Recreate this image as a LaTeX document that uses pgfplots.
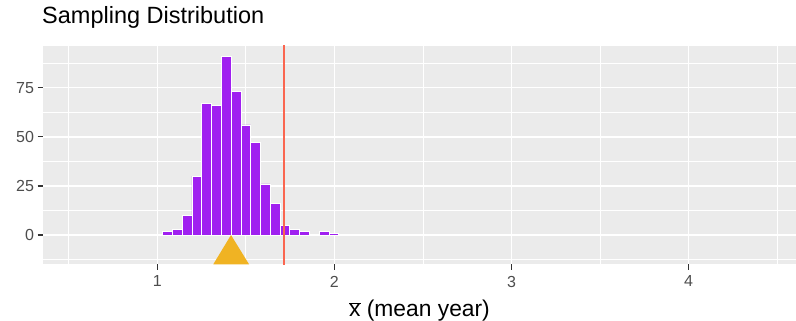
\documentclass[border=0pt]{standalone}
\usepackage{fontspec}
\setmainfont{Liberation Sans}
\usepackage{pgfplots}
\pgfplotsset{compat=1.18}
\definecolor{bgcol}{HTML}{EBEBEB}
\definecolor{barcol}{HTML}{A020F0}
\definecolor{linecol}{HTML}{FA6650}
\definecolor{goldcol}{HTML}{F0B323}
\definecolor{tickcol}{HTML}{333333}
\definecolor{labcol}{HTML}{4D4D4D}
\begin{document}
\begin{tikzpicture}
\path[use as bounding box] (0,0) rectangle (796pt,321pt);
\begin{axis}[
  at={(43pt,56.7pt)}, anchor=south west,
  width=753pt, height=218.3pt, scale only axis,
  xmin=0.3546, xmax=4.606, ymin=-14.9, ymax=96.2,
  axis background/.style={fill=bgcol},
  axis line style={draw=none},
  xtick={1,2,3,4}, ytick={0,25,50,75},
  minor xtick={0.5,1.5,2.5,3.5,4.5},
  minor ytick={-12.5,12.5,37.5,62.5,87.5},
  grid=both,
  major grid style={white, line width=1.6pt},
  minor grid style={white, line width=0.8pt},
  tick pos=left, tick align=outside,
  major tick length=5.5pt, minor tick length=0pt,
  tick style={tickcol, line width=1.3pt},
  minor tick style={draw=none},
  /pgf/number format/assume math mode=true,
  tick label style={font=\fontsize{16}{19}\selectfont, text=labcol},
  xticklabel style={yshift=-2.5pt},
  title={Sampling Distribution},
  title style={at={(axis description cs:0,1)}, anchor=base west, inner sep=0pt, xshift=-1pt, yshift=16.7pt, font=\fontsize{23.5}{27}\selectfont},
  xlabel={$\overline{\mbox{x}}$ (mean year)},
  xlabel style={at={(axis description cs:0.5,0)}, anchor=base, inner sep=0pt, yshift=-52.4pt, font=\fontsize{22.8}{26}\selectfont},
]
\addplot[ybar interval, fill=barcol, draw=white, line width=0.7pt] coordinates {
(1.0300,2) (1.0852,3) (1.1405,10) (1.1957,30) (1.2510,67) (1.3062,66)
(1.3614,91) (1.4167,73) (1.4719,56) (1.5272,47) (1.5824,26) (1.6376,16)
(1.6929,5) (1.7481,3) (1.8034,2) (1.8586,0) (1.9138,2) (1.9691,1) (2.0243,1)
};
\addplot[linecol, line width=2.2pt] coordinates {(1.7175,-20) (1.7175,120)};
\addplot[fill=goldcol, draw=none] coordinates {(1.316,-14.9) (1.518,-14.9) (1.416,0)} --cycle;
\end{axis}
\end{tikzpicture}
\end{document}
